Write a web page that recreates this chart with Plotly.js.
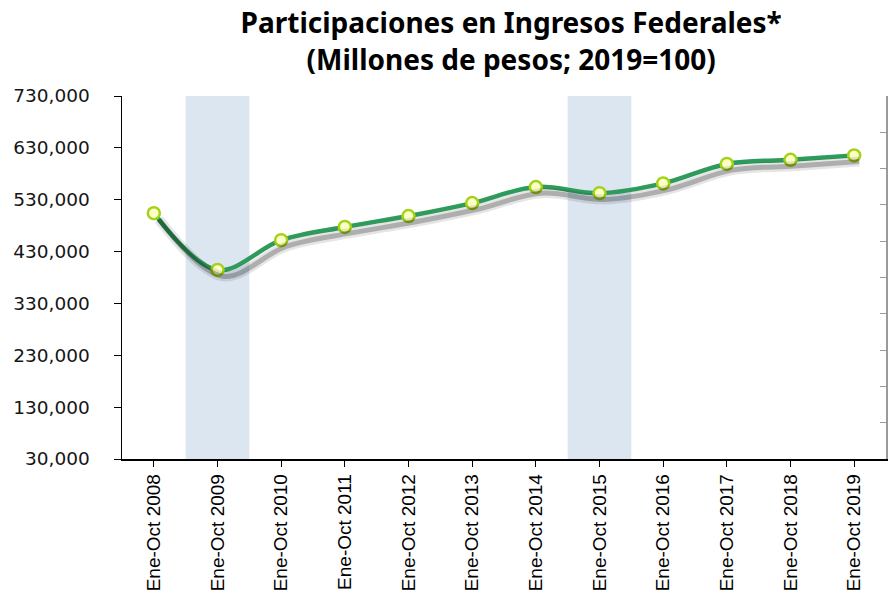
<!DOCTYPE html>
<html>
<head>
<meta charset="utf-8">
<script src="https://cdn.plot.ly/plotly-3.0.1.min.js"></script>
<style>html,body{margin:0;padding:0;background:#fff}#chart{width:889px;height:598px}</style>
</head>
<body>
<div id="chart"></div>
<script>
var categories = ["Ene-Oct 2008","Ene-Oct 2009","Ene-Oct 2010","Ene-Oct 2011","Ene-Oct 2012","Ene-Oct 2013","Ene-Oct 2014","Ene-Oct 2015","Ene-Oct 2016","Ene-Oct 2017","Ene-Oct 2018","Ene-Oct 2019"];
var participaciones = [504000, 394500, 452000, 477500, 498500, 523500, 554500, 542500, 561500, 599000, 607000, 615500];
var shadedYears = ["Ene-Oct 2009", "Ene-Oct 2015"];
var yTicks = [30000, 130000, 230000, 330000, 430000, 530000, 630000, 730000];

var idx = categories.map(function(c, i){ return i; });

var shadowA = {
  x: idx, y: participaciones, xaxis: 'x2', yaxis: 'y3', type: 'scatter', mode: 'lines',
  line: {shape: 'spline', smoothing: 1, color: 'rgba(0,0,0,0.10)', width: 10},
  hoverinfo: 'skip', showlegend: false
};
var shadowB = {
  x: idx, y: participaciones, xaxis: 'x2', yaxis: 'y3', type: 'scatter', mode: 'lines',
  line: {shape: 'spline', smoothing: 1, color: 'rgba(0,0,0,0.24)', width: 5},
  hoverinfo: 'skip', showlegend: false
};
var main = {
  x: idx, y: participaciones, type: 'scatter', mode: 'lines+markers',
  line: {shape: 'spline', smoothing: 1, color: '#2e9a5c', width: 4.5},
  marker: {symbol: 'circle', size: 12, color: '#fcffc4', line: {color: '#a4d21a', width: 2.5}},
  showlegend: false
};
var rightAxisDummy = {
  x: [0], y: [0], xaxis: 'x', yaxis: 'y2', type: 'scatter', mode: 'markers',
  marker: {opacity: 0}, hoverinfo: 'skip', showlegend: false
};

var shapes = shadedYears.map(function(c){
  var i = categories.indexOf(c);
  return {type: 'rect', xref: 'x', yref: 'paper', x0: i - 0.5, x1: i + 0.5, y0: 0, y1: 1,
          fillcolor: '#dce6f0', line: {width: 0}, layer: 'below'};
});

var layout = {
  width: 889, height: 598,
  margin: {l: 122, r: 3, t: 96, b: 139},
  paper_bgcolor: '#ffffff', plot_bgcolor: '#ffffff',
  title: {
    text: '<b>Participaciones en Ingresos Federales*</b><br><b>(Millones de pesos; 2019=100)</b>',
    font: {family: '"Noto Sans", "Open Sans", sans-serif', size: 28, color: '#000000'},
    xref: 'container', x: 0.575, xanchor: 'center',
    yref: 'container', y: 0.944, yanchor: 'middle',
    automargin: false
  },
  shapes: shapes,
  xaxis: {
    range: [-0.5, 11.5], tickmode: 'array', tickvals: idx, ticktext: categories,
    tickangle: -90, tickson: 'boundaries', ticks: 'outside', ticklen: 6, tickcolor: '#000',
    showline: true, linecolor: '#000', linewidth: 1.5, showgrid: false, zeroline: false,
    tickfont: {family: '"Liberation Sans", Arial, sans-serif', size: 19, color: '#000'},
    fixedrange: true
  },
  xaxis2: {range: [-0.5 - 0.08, 11.5 - 0.08], overlaying: 'x', visible: false, fixedrange: true},
  yaxis: {
    range: [30000, 730000], tickmode: 'array', tickvals: yTicks, tickformat: ',',
    ticks: 'outside', ticklen: 7, tickcolor: '#000', ticklabelstandoff: 20,
    showline: true, linecolor: '#000', linewidth: 1.5, showgrid: false, zeroline: false,
    tickfont: {family: '"DejaVu Sans", Verdana, sans-serif', size: 18.5, color: '#151515'},
    fixedrange: true
  },
  yaxis2: {
    range: [0, 10], dtick: 1, overlaying: 'y', side: 'right', showticklabels: false,
    ticks: 'inside', ticklen: 6, tickcolor: '#9a9a9a', showline: true, linecolor: '#9a9a9a', linewidth: 1.5,
    showgrid: false, zeroline: false, fixedrange: true
  },
  yaxis3: {range: [30000 + 12000, 730000 + 12000], overlaying: 'y', visible: false, fixedrange: true},
  hovermode: false
};

Plotly.newPlot('chart', [shadowA, shadowB, rightAxisDummy, main], layout, {displayModeBar: false, staticPlot: true});
</script>
</body>
</html>
